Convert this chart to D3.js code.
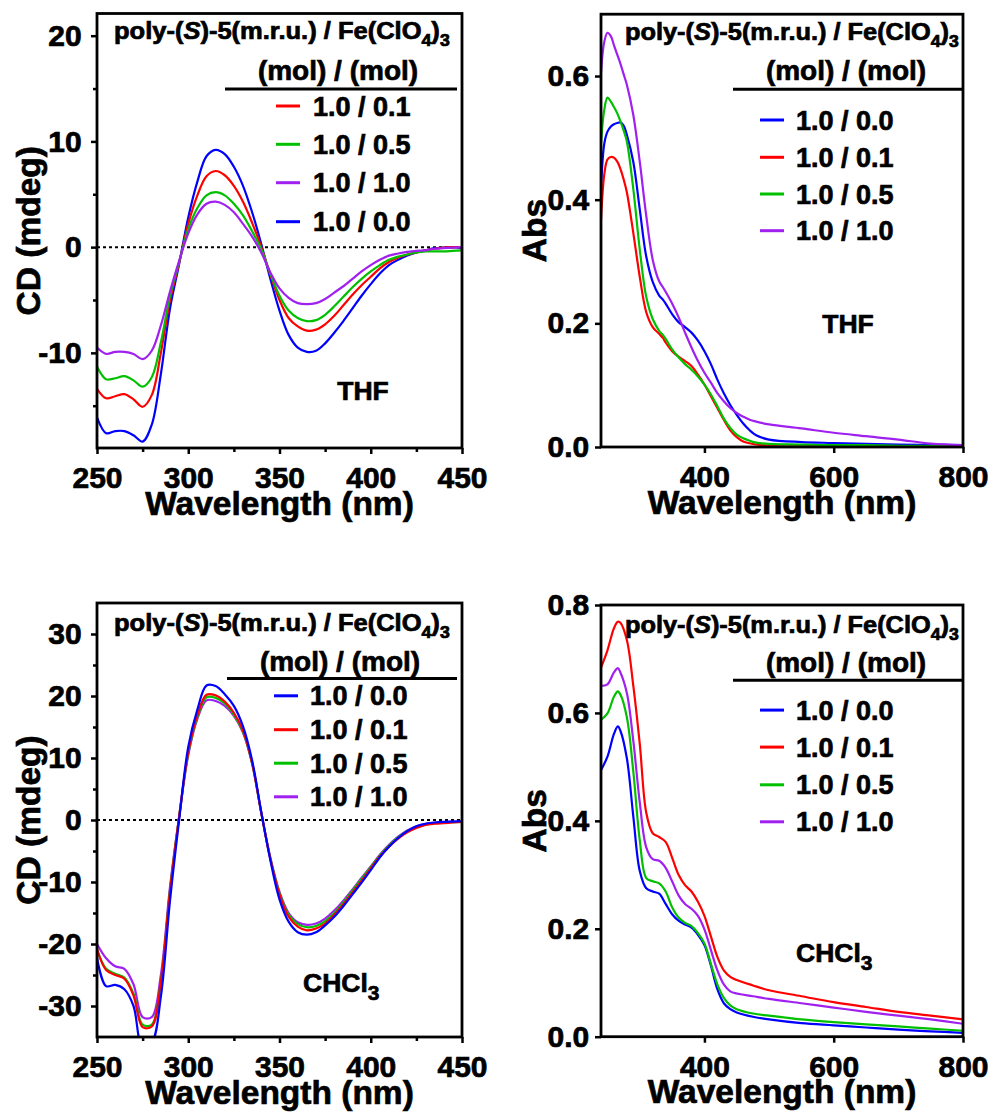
<!DOCTYPE html>
<html><head><meta charset="utf-8">
<script src="https://cdn.jsdelivr.net/npm/d3@7"></script>
<style>
body{margin:0;background:#fff}
text{font-family:"Liberation Sans",Arial,sans-serif;font-weight:bold;fill:#000;stroke:#000;stroke-width:0.7px}
</style>
</head><body>
<svg id="c" width="994" height="1117" xmlns="http://www.w3.org/2000/svg"></svg>
<script>
// ---------------- DATA ----------------
const cdWavelengths = [250,255,260,265,270,275,280,285,290,295,300,305,310,315,320,325,330,335,340,345,350,355,360,365,370,375,380,385,390,395,400,405,410,415,420,425,430,435,440,445,450];

// CD in THF (mdeg)
const thfCd_00 = [-16.1,-17.6,-17.4,-17.4,-17.8,-18.4,-16.8,-12.0,-5.8,-1.6,2.8,6.2,8.6,9.2,8.8,7.6,5.8,3.3,0.3,-3.0,-6.0,-8.3,-9.5,-9.9,-9.8,-9.1,-8.1,-7.0,-5.8,-4.6,-3.5,-2.5,-1.7,-1.2,-0.8,-0.5,-0.3,-0.1,-0.05,0.0,-0.1];
const thfCd_01 = [-13.4,-14.3,-14.1,-13.9,-14.4,-15.1,-14.0,-10.0,-5.0,-1.5,2.2,4.9,6.7,7.2,6.8,5.8,4.3,2.3,0.0,-2.6,-5.0,-6.7,-7.5,-7.9,-7.8,-7.3,-6.5,-5.5,-4.5,-3.6,-2.8,-2.0,-1.4,-1.0,-0.7,-0.5,-0.3,-0.15,-0.05,0.0,0.0];
const thfCd_05 = [-11.3,-12.5,-12.4,-12.2,-12.6,-13.2,-12.3,-9.0,-4.6,-1.4,1.7,3.7,4.9,5.2,4.9,4.1,3.0,1.5,-0.2,-2.5,-4.6,-6.0,-6.7,-7.0,-6.9,-6.4,-5.6,-4.7,-3.8,-3.0,-2.3,-1.7,-1.2,-0.9,-0.7,-0.5,-0.4,-0.4,-0.4,-0.35,-0.3];
const thfCd_10 = [-9.5,-10.1,-9.9,-9.9,-10.1,-10.6,-9.8,-7.4,-4.2,-1.3,1.3,3.1,4.1,4.3,4.0,3.3,2.2,1.0,-0.5,-2.4,-3.9,-4.8,-5.3,-5.4,-5.3,-4.9,-4.3,-3.7,-3.0,-2.3,-1.7,-1.2,-0.8,-0.6,-0.45,-0.35,-0.3,-0.15,-0.1,-0.05,0.0];

// CD in CHCl3 (mdeg)
const chlCd_00 = [-22.2,-26.8,-26.6,-27.3,-30.0,-36.8,-36.0,-28.5,-13.0,0.0,11.8,17.8,21.7,21.6,20.3,18.4,15.1,9.6,1.3,-6.5,-12.8,-16.4,-18.1,-18.5,-18.1,-17.0,-15.6,-13.9,-12.0,-10.1,-8.1,-6.0,-4.3,-2.9,-1.8,-1.0,-0.6,-0.4,-0.3,-0.25,-0.2];
const chlCd_01 = [-20.8,-24.2,-25.0,-25.6,-28.3,-33.4,-33.3,-26.0,-11.5,0.5,10.9,16.9,20.2,20.1,19.1,17.3,14.4,9.2,1.2,-6.3,-12.0,-15.6,-17.2,-17.8,-17.5,-16.7,-15.3,-13.6,-11.7,-9.8,-7.8,-5.9,-4.3,-3.0,-2.0,-1.3,-0.8,-0.6,-0.5,-0.4,-0.3];
const chlCd_05 = [-20.9,-24.0,-24.8,-25.4,-28.0,-33.0,-33.0,-26.0,-11.3,0.5,10.7,16.6,19.8,19.7,18.8,17.0,14.2,9.1,1.2,-6.2,-11.8,-15.3,-16.8,-17.3,-17.1,-16.3,-15.0,-13.3,-11.4,-9.5,-7.6,-5.7,-4.1,-2.8,-1.8,-1.1,-0.7,-0.5,-0.4,-0.35,-0.3];
const chlCd_10 = [-20.0,-22.3,-23.6,-24.0,-26.5,-31.8,-31.8,-25.0,-10.8,0.5,10.5,16.3,19.3,19.2,18.4,16.8,14.1,9.1,1.2,-6.1,-11.6,-15.0,-16.5,-16.9,-16.7,-15.9,-14.6,-13.0,-11.2,-9.3,-7.5,-5.6,-4.0,-2.7,-1.7,-1.0,-0.6,-0.45,-0.35,-0.3,-0.25];

// UV-vis in THF (Abs)
const thfAbsWavelengths = [240,245,250,255,260,265,270,275,280,290,300,310,320,330,336,340,350,360,370,380,390,400,410,420,430,440,450,460,470,480,500,550,600,650,700,750,800];
const thfAbs_00 = [0.415,0.490,0.510,0.518,0.522,0.524,0.525,0.520,0.505,0.461,0.384,0.308,0.267,0.245,0.238,0.232,0.215,0.202,0.194,0.185,0.172,0.155,0.134,0.109,0.087,0.068,0.052,0.038,0.027,0.019,0.012,0.008,0.0065,0.005,0.004,0.0035,0.003];
const thfAbs_01 = [0.367,0.440,0.465,0.469,0.468,0.462,0.450,0.433,0.412,0.346,0.275,0.218,0.194,0.183,0.176,0.169,0.155,0.146,0.139,0.131,0.117,0.101,0.082,0.063,0.044,0.027,0.016,0.009,0.006,0.004,0.002,0.001,0.001,0.001,0.001,0.001,0.001];
const thfAbs_05 = [0.491,0.545,0.565,0.559,0.550,0.540,0.527,0.512,0.494,0.417,0.319,0.243,0.207,0.188,0.181,0.175,0.158,0.145,0.134,0.125,0.114,0.101,0.085,0.066,0.046,0.031,0.020,0.014,0.010,0.007,0.005,0.004,0.003,0.003,0.002,0.002,0.002];
const thfAbs_10 = [0.605,0.655,0.670,0.665,0.650,0.635,0.620,0.603,0.586,0.537,0.461,0.374,0.303,0.268,0.258,0.251,0.232,0.210,0.185,0.161,0.139,0.120,0.104,0.087,0.074,0.063,0.055,0.049,0.044,0.041,0.0365,0.030,0.023,0.0175,0.012,0.0055,0.003];

// UV-vis in CHCl3 (Abs)
const chlAbsWavelengths = [240,250,260,266,270,280,290,300,310,320,330,340,350,360,370,380,390,400,410,420,430,440,450,475,500,550,600,650,700,750,800];
const chlAbs_00 = [0.494,0.519,0.561,0.575,0.567,0.516,0.408,0.307,0.275,0.269,0.265,0.246,0.227,0.215,0.208,0.202,0.189,0.170,0.132,0.088,0.062,0.051,0.045,0.037,0.032,0.025,0.021,0.017,0.013,0.010,0.007];
const chlAbs_01 = [0.684,0.716,0.757,0.769,0.767,0.735,0.650,0.542,0.415,0.377,0.370,0.361,0.332,0.300,0.281,0.269,0.250,0.224,0.186,0.148,0.123,0.111,0.105,0.095,0.086,0.075,0.064,0.055,0.046,0.039,0.032];
const chlAbs_05 = [0.587,0.599,0.630,0.640,0.634,0.592,0.491,0.364,0.294,0.288,0.284,0.269,0.240,0.221,0.211,0.205,0.192,0.173,0.135,0.097,0.072,0.058,0.051,0.043,0.039,0.032,0.027,0.023,0.019,0.015,0.011];
const chlAbs_10 = [0.650,0.653,0.675,0.683,0.675,0.637,0.548,0.434,0.351,0.329,0.326,0.313,0.288,0.262,0.246,0.237,0.224,0.199,0.161,0.123,0.097,0.084,0.080,0.075,0.070,0.062,0.054,0.046,0.039,0.032,0.024];

// Labels / ticks
const ratioLabels = {r00:"1.0 / 0.0", r01:"1.0 / 0.1", r05:"1.0 / 0.5", r10:"1.0 / 1.0"};
const seriesColors = {r00:"#0000ff", r01:"#ff0000", r05:"#00c000", r10:"#a020f0"};
const cdXTicks = [250,300,350,400,450];
const cdXMinor = [275,325,375,425];
const absXTicks = [400,600,800];
const thfCdYTicks = [-10,0,10,20];
const thfCdYMinor = [-15,-5,5,15];
const chlCdYTicks = [-30,-20,-10,0,10,20,30];
const chlCdYMinor = [-25,-15,-5,5,15,25];
const thfAbsYTicks = [0,0.2,0.4,0.6];
const chlAbsYTicks = [0,0.2,0.4,0.6,0.8];

// ---------------- LAYOUT ----------------
const svg = d3.select("#c");
const panels = [
  {left:97,right:462,top:13.5,bottom:448,xd:[250,450],yd:[-19,22.1],
   wl:cdWavelengths, series:[["r00",thfCd_00],["r01",thfCd_01],["r05",thfCd_05],["r10",thfCd_10]],
   xt:cdXTicks,xm:cdXMinor,yt:thfCdYTicks,ym:thfCdYMinor,fmt:d=>String(d),ylab:"CD (mdeg)",ylabX:40,ypad:9.3,zero:true,
   title:{x0:114,w:336,b1:39.5,cx2:338,b2:80,ry:89,rx1:225,rx2:457},
   legend:{order:["r01","r05","r10","r00"],x1:276,x2:300,tx:313,rows:[106,144.3,182.7,221.7]},
   solvent:{text:"THF",x:363,y:400,anchor:"middle"}},
  {left:601,right:963,top:14.2,bottom:447,xd:[240,800],yd:[0,0.70],
   wl:thfAbsWavelengths, series:[["r00",thfAbs_00],["r01",thfAbs_01],["r05",thfAbs_05],["r10",thfAbs_10]],
   xt:absXTicks,xm:[],yt:thfAbsYTicks,ym:[],fmt:d=>d.toFixed(1),ylab:"Abs",ylabX:546,ypad:5.7,zero:false,
   title:{x0:625,w:334,b1:40,cx2:846,b2:80,ry:89.3,rx1:733,rx2:962},
   legend:{order:["r00","r01","r05","r10"],x1:760,x2:784,tx:796,rows:[120,157.3,194,230.7]},
   solvent:{text:"THF",x:848,y:333,anchor:"middle"}},
  {left:97,right:462,top:603,bottom:1037,xd:[250,450],yd:[-35,35],
   wl:cdWavelengths, series:[["r10",chlCd_10],["r05",chlCd_05],["r01",chlCd_01],["r00",chlCd_00]],
   xt:cdXTicks,xm:cdXMinor,yt:chlCdYTicks,ym:chlCdYMinor,fmt:d=>String(d),ylab:"CD (mdeg)",ylabX:40,ypad:9.3,zero:true,
   title:{x0:114,w:336,b1:631.4,cx2:340,b2:670.8,ry:678.6,rx1:227,rx2:457},
   legend:{order:["r00","r01","r05","r10"],x1:274,x2:298,tx:310,rows:[695.8,729.7,763.2,796.8]},
   solvent:{text:"CHCl",sub:"3",x:303,y:991.7,anchor:"start"}},
  {left:601,right:963,top:605,bottom:1036.7,xd:[240,800],yd:[0,0.8],
   wl:chlAbsWavelengths, series:[["r00",chlAbs_00],["r05",chlAbs_05],["r10",chlAbs_10],["r01",chlAbs_01]],
   xt:absXTicks,xm:[],yt:chlAbsYTicks,ym:[],fmt:d=>d.toFixed(1),ylab:"Abs",ylabX:546,ypad:5.7,zero:false,
   title:{x0:625,w:334,b1:633,cx2:846,b2:671.8,ry:680.3,rx1:733,rx2:962},
   legend:{order:["r00","r01","r05","r10"],x1:760,x2:784,tx:796,rows:[710.1,747.1,784.8,821.8]},
   solvent:{text:"CHCl",sub:"3",x:796,y:961.8,anchor:"start"}}
];

function fitWidth(sel, x0, w){
  const bb = sel.node().getBBox();
  const k = w / bb.width;
  sel.attr("transform", `translate(${x0},0) scale(${k},1) translate(${-x0},0)`);
}

panels.forEach((p,i)=>{
  const g = svg.append("g");
  const x = d3.scaleLinear().domain(p.xd).range([p.left,p.right]);
  const y = d3.scaleLinear().domain(p.yd).range([p.bottom,p.top]);

  const clipId = "clip"+i;
  svg.append("clipPath").attr("id",clipId).append("rect")
    .attr("x",p.left).attr("y",p.top).attr("width",p.right-p.left).attr("height",p.bottom-p.top);

  // zero line
  if(p.zero){
    g.append("line").attr("x1",p.left).attr("x2",p.right).attr("y1",y(0)).attr("y2",y(0))
      .attr("stroke","#000").attr("stroke-width",2).attr("stroke-dasharray","3,3");
  }

  // data lines
  const line = d3.line().x((d,j)=>x(p.wl[j])).y(d=>y(d)).curve(d3.curveCatmullRom.alpha(0.5));
  const lg = g.append("g").attr("clip-path",`url(#${clipId})`);
  p.series.forEach(([k,vals])=>{
    lg.append("path").datum(vals).attr("d",line).attr("fill","none")
      .attr("stroke",seriesColors[k]).attr("stroke-width",2.2).attr("stroke-linejoin","round");
  });

  // axes
  const xa = g.append("g").attr("transform",`translate(0,${p.bottom})`)
    .call(d3.axisBottom(x).tickValues(p.xt).tickSize(6).tickPadding(12.7).tickSizeOuter(0).tickFormat(d=>String(d)));
  xa.select(".domain").remove();
  xa.selectAll("line").attr("stroke-width",2.5);
  xa.selectAll("text").attr("font-size",30).attr("font-family",null);
  if(p.xm.length){
    const xm = g.append("g").attr("transform",`translate(0,${p.bottom})`)
      .call(d3.axisBottom(x).tickValues(p.xm).tickSize(4).tickFormat(""));
    xm.select(".domain").remove();
    xm.selectAll("line").attr("stroke-width",2.5);
  }
  const ya = g.append("g").attr("transform",`translate(${p.left},0)`)
    .call(d3.axisLeft(y).tickValues(p.yt).tickSize(6).tickPadding(p.ypad).tickSizeOuter(0).tickFormat(p.fmt));
  ya.select(".domain").remove();
  ya.selectAll("line").attr("stroke-width",2.5);
  ya.selectAll("text").attr("font-size",30).attr("font-family",null);
  if(p.ym.length){
    const ym = g.append("g").attr("transform",`translate(${p.left},0)`)
      .call(d3.axisLeft(y).tickValues(p.ym).tickSize(4).tickFormat(""));
    ym.select(".domain").remove();
    ym.selectAll("line").attr("stroke-width",2.5);
  }
  g.selectAll(".tick text").attr("fill","#000").style("font-family",'"Liberation Sans",Arial,sans-serif').style("font-weight","bold");

  // frame
  g.append("rect").attr("x",p.left).attr("y",p.top).attr("width",p.right-p.left).attr("height",p.bottom-p.top)
    .attr("fill","none").attr("stroke","#000").attr("stroke-width",2.8);

  // axis titles
  g.append("text").attr("x",(p.left+p.right)/2).attr("y",p.bottom+66.5).attr("text-anchor","middle")
    .attr("font-size",33.5).text("Wavelength (nm)");
  const cy = (p.top+p.bottom)/2;
  g.append("text").attr("transform",`translate(${p.ylabX},${cy}) rotate(-90)`).attr("text-anchor","middle")
    .attr("font-size",33.5).text(p.ylab);

  // legend title
  const t1 = g.append("text").attr("x",p.title.x0).attr("y",p.title.b1).attr("font-size",23);
  t1.append("tspan").text("poly-(");
  t1.append("tspan").attr("font-style","italic").text("S");
  t1.append("tspan").text(")-5(m.r.u.) / Fe(ClO");
  t1.append("tspan").attr("font-size",16).attr("dy",7).text("4");
  t1.append("tspan").attr("dy",-7).text(")");
  t1.append("tspan").attr("font-size",16).attr("dy",7).text("3");
  fitWidth(t1, p.title.x0, p.title.w);
  g.append("text").attr("x",p.title.cx2).attr("y",p.title.b2).attr("text-anchor","middle")
    .attr("font-size",28).text("(mol) / (mol)");
  g.append("line").attr("x1",p.title.rx1).attr("x2",p.title.rx2).attr("y1",p.title.ry).attr("y2",p.title.ry)
    .attr("stroke","#000").attr("stroke-width",3);

  // legend entries
  p.legend.order.forEach((k,j)=>{
    const ry = p.legend.rows[j];
    g.append("line").attr("x1",p.legend.x1).attr("x2",p.legend.x2).attr("y1",ry).attr("y2",ry)
      .attr("stroke",seriesColors[k]).attr("stroke-width",3);
    g.append("text").attr("x",p.legend.tx).attr("y",ry+9.5).attr("font-size",27).text(ratioLabels[k]);
  });

  // solvent label
  const s = g.append("text").attr("x",p.solvent.x).attr("y",p.solvent.y).attr("text-anchor",p.solvent.anchor)
    .attr("font-size",26.5);
  s.append("tspan").text(p.solvent.text);
  if(p.solvent.sub) s.append("tspan").attr("font-size",21).attr("dy",8).text(p.solvent.sub);
});
</script>
</body></html>
